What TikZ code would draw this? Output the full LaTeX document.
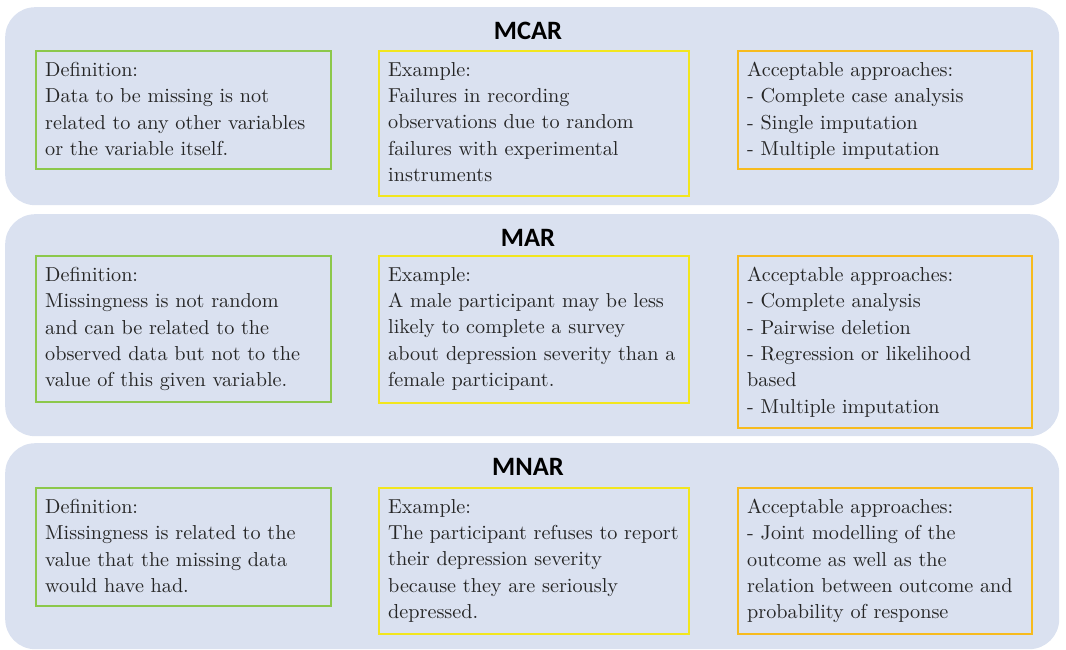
\documentclass[tikz,border=0pt]{standalone}
\usepackage{fontspec}
\newfontfamily\bodyfont{lmroman10-regular.otf}
\newfontfamily\titlefont{Carlito}
\usetikzlibrary{calc}
\definecolor{panelfill}{HTML}{DAE1F0}
\definecolor{defc}{HTML}{8CC84B}
\definecolor{exc}{HTML}{F2E61E}
\definecolor{appc}{HTML}{F7BB1E}
\definecolor{txtc}{HTML}{262626}
\tikzset{
  panel/.style={fill=panelfill, draw=none, rounded corners=30pt, anchor=north west, inner sep=0pt},
  boxbase/.style={line width=2pt, anchor=north west, inner sep=0pt},
  defbox/.style={boxbase, draw=defc},
  exbox/.style={boxbase, draw=exc},
  appbox/.style={boxbase, draw=appc},
  txt/.style={anchor=north west, inner sep=0pt, align=left, text=txtc,
    font=\bodyfont\fontsize{20.2}{26.3}\selectfont},
  ttl/.style={anchor=base, inner sep=0pt, font=\titlefont\bfseries\fontsize{26.5}{30}\selectfont, text=black}
}
\begin{document}
\begin{tikzpicture}[x=1pt,y=-1pt]
\useasboundingbox (0,0) rectangle (1066,650);
% panels
\node[panel, minimum width=1054pt, minimum height=198pt] (p1) at (5,7) {};
\node[panel, minimum width=1054pt, minimum height=222pt] (p2) at (5,214) {};
\node[panel, minimum width=1054pt, minimum height=206pt] (p3) at (5,443) {};
% titles
\node[ttl] (t1) at (528,40) {MCAR};
\node[ttl] (t2) at (528,246) {MAR};
\node[ttl] (t3) at (528,475) {MNAR};
% MCAR boxes
\node[defbox, minimum width=295pt, minimum height=118pt] (d1) at (35,50) {};
\node[exbox, minimum width=310pt, minimum height=145pt] (e1) at (378,50) {};
\node[appbox, minimum width=294pt, minimum height=118pt] (a1) at (737,50) {};
\node[txt] (d1t) at ($(d1.north west)+(10,12)$) {Definition:\\Data to be missing is not\\related to any other variables\\or the variable itself.};
\node[txt] (e1t) at ($(e1.north west)+(10,12)$) {Example:\\Failures in recording\\observations due to random\\failures with experimental\\instruments};
\node[txt] (a1t) at ($(a1.north west)+(10,12)$) {Acceptable approaches:\\- Complete case analysis\\- Single imputation\\- Multiple imputation};
% MAR boxes
\node[defbox, minimum width=295pt, minimum height=146pt] (d2) at (35,255) {};
\node[exbox, minimum width=310pt, minimum height=147pt] (e2) at (378,255) {};
\node[appbox, minimum width=294pt, minimum height=172pt] (a2) at (737,255) {};
\node[txt] (d2t) at ($(d2.north west)+(10,12)$) {Definition:\\Missingness is not random\\and can be related to the\\observed data but not to the\\value of this given variable.};
\node[txt] (e2t) at ($(e2.north west)+(10,12)$) {Example:\\A male participant may be less\\likely to complete a survey\\about depression severity than a\\female participant.};
\node[txt] (a2t) at ($(a2.north west)+(10,12)$) {Acceptable approaches:\\- Complete analysis\\- Pairwise deletion\\- Regression or likelihood\\based\\- Multiple imputation};
% MNAR boxes
\node[defbox, minimum width=295pt, minimum height=118pt] (d3) at (35,487) {};
\node[exbox, minimum width=310pt, minimum height=146pt] (e3) at (378,487) {};
\node[appbox, minimum width=294pt, minimum height=146pt] (a3) at (737,487) {};
\node[txt] (d3t) at ($(d3.north west)+(10,12)$) {Definition:\\Missingness is related to the\\value that the missing data\\would have had.};
\node[txt] (e3t) at ($(e3.north west)+(10,12)$) {Example:\\The participant refuses to report\\their depression severity\\because they are seriously\\depressed.};
\node[txt] (a3t) at ($(a3.north west)+(10,12)$) {Acceptable approaches:\\- Joint modelling of the\\outcome as well as the\\relation between outcome and\\probability of response};
\end{tikzpicture}
\end{document}
